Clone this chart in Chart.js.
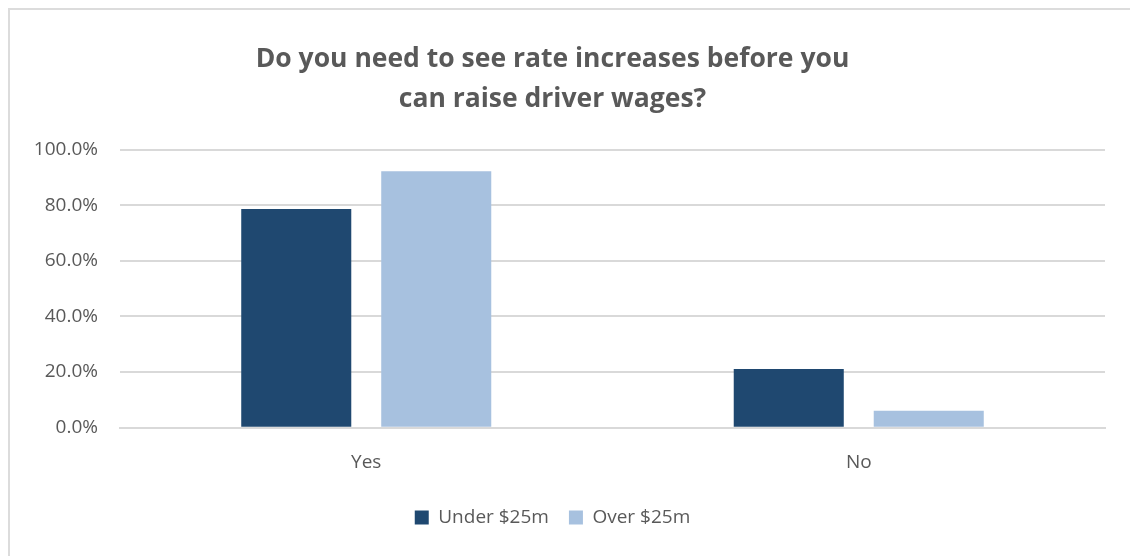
<!doctype html>
<html lang="en">
  <head>
    <meta charset="UTF-8" />
    <title>Rate increases before raising driver wages</title>
    <script src="https://cdn.jsdelivr.net/npm/chart.js"></script>
    <style>
      body {
        margin: 0;
        padding: 0;
        background: #fff;
        overflow: hidden;
      }

      .frame {
        position: absolute;
        left: 8px;
        top: 8px;
        width: 1300px;
        height: 700px;
        border: 2px solid #dcdcdc;
      }

      #chart-container {
        position: absolute;
        left: 0;
        top: 0;
        width: 1130px;
        height: 556px;
      }
    </style>
  </head>

  <body>
    <div class="frame"></div>
    <div id="chart-container"><canvas id="wageChart"></canvas></div>

    <script>
      const categories = ["Yes", "No"];
      const underValues = [78.6, 21.1];
      const overValues = [92.2, 6.1];
      const seriesNames = ["Under $25m", "Over $25m"];
      const yTicks = [0, 20, 40, 60, 80, 100];

      const textColor = "#595959";
      const gridColor = "#d9d9d9";
      const fontFamily = "'Open Sans', sans-serif";

      const ctx = document.getElementById("wageChart").getContext("2d");
      new Chart(ctx, {
        type: "bar",
        data: {
          labels: categories,
          datasets: [
            {
              label: seriesNames[0],
              data: underValues,
              backgroundColor: "#1f4870",
            },
            {
              label: seriesNames[1],
              data: overValues,
              backgroundColor: "#a7c1df",
            },
          ],
        },
        options: {
          responsive: true,
          maintainAspectRatio: false,
          animation: false,
          categoryPercentage: 0.5685,
          barPercentage: 0.786,
          layout: { padding: { left: 0, right: 25, top: 0, bottom: 19 } },
          plugins: {
            title: {
              display: true,
              text: [
                "Do you need to see rate increases before you",
                "can raise driver wages?",
              ],
              color: textColor,
              font: { family: fontFamily, size: 26.5, weight: "bold", lineHeight: 1.5 },
              padding: { top: 40, bottom: 30 },
            },
            legend: {
              position: "bottom",
              labels: {
                color: textColor,
                font: { family: fontFamily, size: 19 },
                boxWidth: 14,
                boxHeight: 14,
                padding: 20,
              },
            },
            tooltip: { enabled: false },
          },
          scales: {
            x: {
              afterFit: (scale) => {
                // pull the plot area down closer to the category labels
                scale.height = scale.height - 8.5;
              },
              grid: { display: false, drawTicks: false },
              border: { color: gridColor, width: 2 },
              ticks: {
                color: textColor,
                font: { family: fontFamily, size: 19 },
                padding: 23,
              },
            },
            y: {
              min: 0,
              max: 100,
              afterFit: (scale) => {
                scale.width = 120;
              },
              afterBuildTicks: (scale) => {
                scale.ticks = yTicks.map((v) => ({ value: v }));
              },
              grid: { color: gridColor, lineWidth: 2, drawTicks: false },
              border: { display: false },
              ticks: {
                color: textColor,
                font: { family: fontFamily, size: 19 },
                padding: 22,
                callback: (val) => val.toFixed(1) + "%",
              },
            },
          },
        },
      });
    </script>
  </body>
</html>
